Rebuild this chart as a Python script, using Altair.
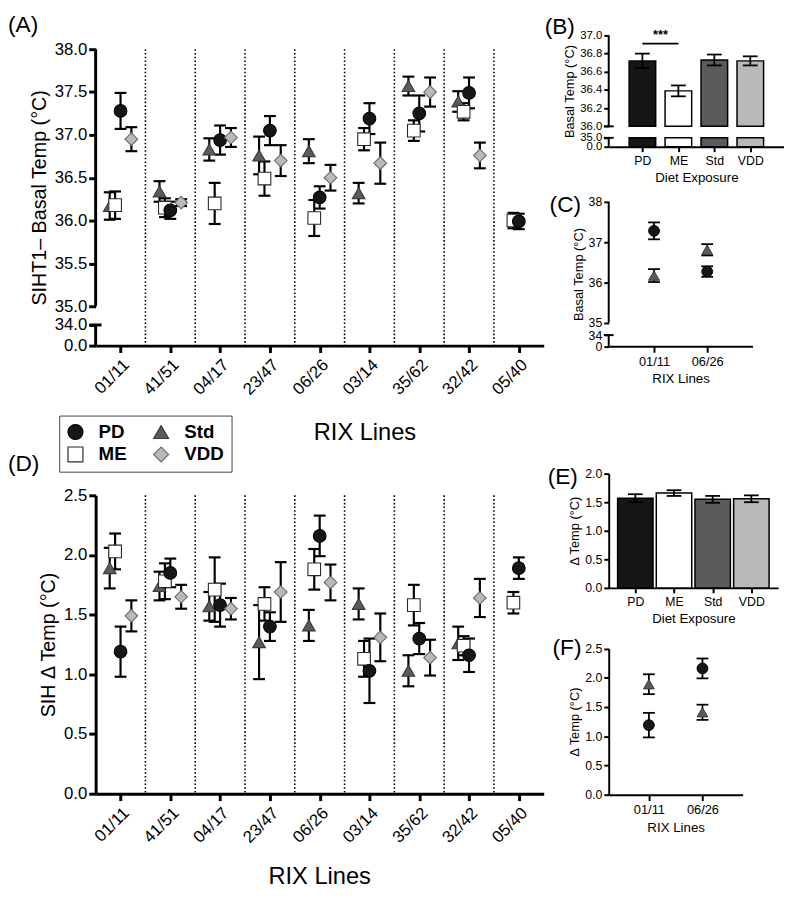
import json
import altair as alt
import pandas as pd

FONT = "Liberation Sans"

# ---------------- data ----------------
LINES = ["01/11", "41/51", "04/17", "23/47", "06/26", "03/14", "35/62", "32/42", "05/40"]
DIETS = ["PD", "ME", "Std", "VDD"]
LEGEND_ORDER = ["PD", "ME", "Std", "VDD"]
DRAW_ORDER = ["Std", "ME", "PD", "VDD"]
SUBSET_LINES = ["01/11", "06/26"]

BASAL_PD_MEAN = [37.28, 36.12, 36.94, 37.05, 36.27, 37.19, 37.25, 37.49, 35.99]
BASAL_PD_SEM = [0.21, 0.10, 0.17, 0.17, 0.13, 0.18, 0.21, 0.18, 0.09]
BASAL_ME_MEAN = [36.18, 36.15, 36.20, 36.49, 36.03, 36.95, 37.05, 37.27, 36.00]
BASAL_ME_SEM = [0.16, 0.11, 0.24, 0.20, 0.21, 0.13, 0.12, 0.10, 0.09]
BASAL_STD_MEAN = [36.17, 36.34, 36.83, 36.76, 36.81, 36.32, 37.57, 37.39, None]
BASAL_STD_SEM = [0.16, 0.12, 0.13, 0.22, 0.14, 0.12, 0.11, 0.12, None]
BASAL_VDD_MEAN = [36.95, 36.21, 36.97, 36.70, 36.50, 36.67, 37.50, 36.76, None]
BASAL_VDD_SEM = [0.14, 0.04, 0.11, 0.18, 0.15, 0.24, 0.17, 0.15, None]

DELTA_PD_MEAN = [1.19, 1.85, 1.58, 1.40, 2.16, 1.03, 1.30, 1.16, 1.89]
DELTA_PD_SEM = [0.21, 0.12, 0.18, 0.12, 0.17, 0.27, 0.13, 0.14, 0.09]
DELTA_ME_MEAN = [2.03, 1.78, 1.71, 1.59, 1.88, 1.13, 1.58, 1.24, 1.60]
DELTA_ME_SEM = [0.15, 0.15, 0.27, 0.14, 0.17, 0.15, 0.17, 0.08, 0.09]
DELTA_STD_MEAN = [1.89, 1.74, 1.57, 1.27, 1.41, 1.59, 1.03, 1.26, None]
DELTA_STD_SEM = [0.17, 0.12, 0.12, 0.31, 0.13, 0.13, 0.13, 0.14, None]
DELTA_VDD_MEAN = [1.49, 1.65, 1.55, 1.69, 1.77, 1.31, 1.14, 1.64, None]
DELTA_VDD_SEM = [0.13, 0.10, 0.09, 0.25, 0.15, 0.20, 0.15, 0.16, None]

BAR_BASAL_MEAN = [36.72, 36.39, 36.73, 36.72]
BAR_BASAL_SEM = [0.08, 0.06, 0.06, 0.05]
BAR_DELTA_MEAN = [1.57, 1.66, 1.55, 1.56]
BAR_DELTA_SEM = [0.07, 0.05, 0.06, 0.06]

SIG_FROM = ["PD"]
SIG_TO = ["ME"]
SIG_LEVEL = [36.91]
SIG_LABEL = ["***"]

# ---------------- styling ----------------
FILL_COLORS = {"PD": "#161616", "ME": "#ffffff", "Std": "#5b5b5b", "VDD": "#b9b9b9"}
EDGE_COLORS = {"PD": "#000000", "ME": "#2a2a2a", "Std": "#3a3a3a", "VDD": "#6a6a6a"}
SHAPES = {"PD": "circle", "ME": "square", "Std": "triangle-up", "VDD": "diamond"}
DODGE = {"Std": -0.2175, "ME": -0.109, "PD": 0.0, "VDD": 0.2175}  # horizontal jitter within a line
TICKS = 40  # keep every listed tick value


def sc(mapping):
    return alt.Scale(domain=LEGEND_ORDER, range=[mapping[d] for d in LEGEND_ORDER])


def label_expr(names):
    return json.dumps(names) + "[round(datum.value)]"


def long_frame(series, lines, dodge):
    rows = []
    for diet in DRAW_ORDER:
        means, sems = series[diet]
        for line, m, s in zip(lines, means, sems):
            if m is None:
                continue
            pos = lines.index(line) + dodge[diet]
            rows.append({"line": line, "pos": pos, "diet": diet, "mean": m, "lo": m - s, "hi": m + s})
    return pd.DataFrame(rows)


def bar_frame(means, sems, brk):
    df = pd.DataFrame({"diet": DIETS, "pos": list(range(len(DIETS))), "mean": means,
                       "lo": [m - s for m, s in zip(means, sems)],
                       "hi": [m + s for m, s in zip(means, sems)]})
    df["zero"] = 0.0
    if brk:
        df["brk_lo"] = brk[0]
        df["brk_hi"] = brk[1]
    return df


basal_series = {"PD": (BASAL_PD_MEAN, BASAL_PD_SEM), "ME": (BASAL_ME_MEAN, BASAL_ME_SEM),
                "Std": (BASAL_STD_MEAN, BASAL_STD_SEM), "VDD": (BASAL_VDD_MEAN, BASAL_VDD_SEM)}
delta_series = {"PD": (DELTA_PD_MEAN, DELTA_PD_SEM), "ME": (DELTA_ME_MEAN, DELTA_ME_SEM),
                "Std": (DELTA_STD_MEAN, DELTA_STD_SEM), "VDD": (DELTA_VDD_MEAN, DELTA_VDD_SEM)}
basal = long_frame(basal_series, LINES, DODGE)
delta = long_frame(delta_series, LINES, DODGE)


def subset(series):
    rows = []
    for d in ["Std", "PD"]:
        means, sems = series[d]
        for k, line in enumerate(SUBSET_LINES):
            i = LINES.index(line)
            m, s = means[i], sems[i]
            rows.append({"line": line, "pos": k, "diet": d, "mean": m, "lo": m - s, "hi": m + s})
    return pd.DataFrame(rows)


basal_sub = subset(basal_series)
delta_sub = subset(delta_series)
bars_basal = bar_frame(BAR_BASAL_MEAN, BAR_BASAL_SEM, (35, 36))
bars_delta = bar_frame(BAR_DELTA_MEAN, BAR_DELTA_SEM, None)
sig = pd.DataFrame({"a": [DIETS.index(s) for s in SIG_FROM], "b": [DIETS.index(s) for s in SIG_TO],
                    "y": SIG_LEVEL, "label": SIG_LABEL})
sig["mid"] = (sig["a"] + sig["b"]) / 2


def letter(txt, x, y):
    return alt.Chart(pd.DataFrame({"t": [txt]})).mark_text(
        align="left", baseline="top", fontSize=23, font=FONT, color="black"
    ).encode(x=alt.value(x), y=alt.value(y), text="t:N")


def axis_segments(lo, hi, width):
    return alt.Chart(pd.DataFrame({"lo": lo, "hi": hi})).mark_rule(
        color="black", strokeWidth=width).encode(x=alt.value(0), y="lo:Q", y2="hi:Q")


def break_caps(levels, size, width):
    return alt.Chart(pd.DataFrame({"v": levels})).mark_tick(
        orient="horizontal", color="black", size=size, thickness=width, opacity=1).encode(
        x=alt.value(0), y="v:Q")


def caps(base, xs, ys, size, width):
    return [base.mark_tick(orient="horizontal", size=size, thickness=width, color="black", opacity=1).encode(
        x=alt.X("pos:Q", scale=xs), y=alt.Y(f"{c}:Q", scale=ys)) for c in ("lo", "hi")]


# ---------------- big dot panels (A, D) ----------------
def big_panel(df, yscale, yaxis, xaxis, height, ytop, extra, legend):
    xs = alt.Scale(domain=[-0.5, len(LINES) - 0.5], nice=False, zero=False)
    sep_df = pd.DataFrame({"line": LINES[1:]})
    sep_df["pos"] = [LINES.index(l) - 0.5 for l in LINES[1:]]
    sep_df["top"] = ytop
    sep_df["bottom"] = 0.0
    sep = alt.Chart(sep_df).mark_rule(color="black", strokeWidth=1.6, strokeDash=[1.6, 2.2]).encode(
        x=alt.X("pos:Q", scale=xs), y=alt.Y("top:Q", scale=yscale), y2="bottom:Q")
    base = alt.Chart(df)
    err = base.mark_rule(color="black", strokeWidth=2.2).encode(
        x=alt.X("pos:Q", scale=xs), y=alt.Y("lo:Q", scale=yscale), y2="hi:Q")
    pts = base.mark_point(filled=True, size=165, strokeWidth=1.1, opacity=1).encode(
        x=alt.X("pos:Q", scale=xs, axis=xaxis),
        y=alt.Y("mean:Q", scale=yscale, axis=yaxis),
        shape=alt.Shape("diet:N", scale=sc(SHAPES), legend=legend),
        fill=alt.Fill("diet:N", scale=sc(FILL_COLORS), legend=legend),
        stroke=alt.Stroke("diet:N", scale=sc(EDGE_COLORS), legend=legend),
    )
    return alt.layer(sep, *extra, err, *caps(base, xs, yscale, 12, 2.2), pts).properties(
        width=455, height=height)


legendA = alt.Legend(title=None, orient="none", legendX=-37, legendY=386, columns=2,
                     labelFontSize=19, labelFontWeight="bold", labelFont=FONT, labelColor="black",
                     symbolSize=230, symbolStrokeWidth=1.2, strokeColor="#444", padding=7,
                     columnPadding=24, rowPadding=2, labelOffset=14, direction="vertical")


def big_xaxis(tx, ty):
    return alt.Axis(title="RIX Lines", values=list(range(len(LINES))), labelExpr=label_expr(LINES),
                    labelAngle=-45, labelFontSize=17, titleFontSize=24, labelFlush=False,
                    tickCount=TICKS, labelOverlap=False,
                    tickSize=7, tickWidth=3, domainWidth=3, labelPadding=4, grid=False,
                    titleX=tx, titleY=ty, titleBaseline="middle", titleAlign="center")


yA = alt.Scale(domain=[0, 34, 35, 38], range=[315, 294, 275, 14], nice=False, zero=False)
yaxisA = alt.Axis(values=[0, 34, 35, 35.5, 36, 36.5, 37, 37.5, 38], format=".1f", domain=False,
                  title="SIHT1\u2013 Basal Temp (\u00b0C)", titleFontSize=20, labelFontSize=17,
                  tickSize=7, tickWidth=3, titlePadding=5, grid=False, labelOverlap=False,
                  tickCount=TICKS)
panelA = big_panel(basal, yA, yaxisA, big_xaxis(273, 88), 315, 38,
                   [axis_segments([0, 35], [34, 38], 3), break_caps([34], 12, 3),
                    letter("(A)", -89, -21)], legendA)

yD = alt.Scale(domain=[0, 2.5], nice=False, zero=True)
yaxisD = alt.Axis(values=[0, 0.5, 1, 1.5, 2, 2.5], format=".1f", domainWidth=3,
                  title="SIH \u0394 Temp (\u00b0C)", titleFontSize=20, labelFontSize=17,
                  tickSize=7, tickWidth=3, titlePadding=5, grid=False, labelOverlap=False,
                  tickCount=TICKS)
panelD = big_panel(delta, yD, yaxisD, big_xaxis(227, 84), 303, 2.5, [letter("(D)", -89, -43)], None)


# ---------------- bar panels (B, E) ----------------
def bar_xaxis():
    return alt.Axis(title="Diet Exposure", values=list(range(len(DIETS))), labelExpr=label_expr(DIETS),
                    labelAngle=0, labelFontSize=12.5, titleFontSize=13.5, grid=False, labelFlush=False,
                    tickCount=TICKS, labelOverlap=False,
                    tickSize=5, tickWidth=2, domainWidth=2, labelPadding=3, titlePadding=4)


def bar_panel(df, xs, yscale, yaxis, width, height, barsize, broken, extra):
    base = alt.Chart(df)
    fill = alt.Fill("diet:N", scale=sc(FILL_COLORS), legend=None)
    layers = []
    if broken:
        layers.append(base.mark_bar(stroke="black", strokeWidth=1.5, size=barsize).encode(
            x=alt.X("pos:Q", scale=xs, axis=bar_xaxis()),
            y=alt.Y("mean:Q", scale=yscale, axis=yaxis), y2="brk_hi:Q", fill=fill))
        layers.append(base.mark_bar(stroke="black", strokeWidth=1.5, size=barsize).encode(
            x=alt.X("pos:Q", scale=xs), y="brk_lo:Q", y2="zero:Q", fill=fill))
    else:
        layers.append(base.mark_bar(stroke="black", strokeWidth=1.5, size=barsize).encode(
            x=alt.X("pos:Q", scale=xs, axis=bar_xaxis()),
            y=alt.Y("mean:Q", scale=yscale, axis=yaxis), y2="zero:Q", fill=fill))
    layers.append(base.mark_rule(color="black", strokeWidth=1.8).encode(
        x=alt.X("pos:Q", scale=xs), y="lo:Q", y2="hi:Q"))
    layers += caps(base, xs, yscale, 15, 1.8)
    return alt.layer(*layers, *extra).properties(width=width, height=height)


xB = alt.Scale(domain=[-0.8, 3.8], nice=False, zero=False)
yB = alt.Scale(domain=[0, 35, 36, 37], range=[113, 104, 92.3, 0], nice=False, zero=False)
yaxisB = alt.Axis(values=[0, 35, 36, 36.2, 36.4, 36.6, 36.8, 37], format=".1f", domain=False,
                  title="Basal Temp (\u00b0C)", titleFontSize=13, labelFontSize=11.5,
                  tickSize=5, tickWidth=2, titlePadding=3, grid=False, labelOverlap=False,
                  tickCount=TICKS)
sig_rule = alt.Chart(sig).mark_rule(color="black", strokeWidth=1.8).encode(
    x=alt.X("a:Q", scale=xB), x2="b:Q", y="y:Q")
sig_text = alt.Chart(sig).mark_text(fontSize=13, fontWeight="bold", baseline="bottom", dy=-2,
                                    font=FONT).encode(
    x=alt.X("mid:Q", scale=xB), y="y:Q", text="label:N")
panelB = bar_panel(bars_basal, xB, yB, yaxisB, 178, 113, 27, True,
                   [axis_segments([0, 36], [35, 37], 2), break_caps([35, 36], 10, 2),
                    sig_rule, sig_text, letter("(B)", -65, -19)])

xE = alt.Scale(domain=[-0.561, 3.564], nice=False, zero=False)
yE = alt.Scale(domain=[0, 2], range=[195, 79], nice=False)
yaxisE = alt.Axis(values=[0, 0.5, 1, 1.5, 2], format=".1f", domainWidth=2,
                  title="\u0394 Temp (\u00b0C)", titleFontSize=13, labelFontSize=12.5,
                  tickSize=5, tickWidth=2, titlePadding=3, grid=False, labelOverlap=False,
                  tickCount=TICKS)
panelE = bar_panel(bars_delta, xE, yE, yaxisE, 172, 195, 36, False, [letter("(E)", -62, 72)])


# ---------------- small dot panels (C, F) ----------------
def small_panel(df, xs, yscale, yaxis, width, height, extra):
    xaxis = alt.Axis(title="RIX Lines", values=list(range(len(SUBSET_LINES))),
                     labelExpr=label_expr(SUBSET_LINES), labelAngle=0, labelFontSize=13,
                     titleFontSize=13.5, grid=False, labelFlush=False, tickCount=TICKS,
                     tickSize=6, tickWidth=2, domainWidth=2, labelPadding=3, titlePadding=4)
    base = alt.Chart(df)
    err = base.mark_rule(color="black", strokeWidth=1.8).encode(
        x=alt.X("pos:Q", scale=xs), y=alt.Y("lo:Q", scale=yscale), y2="hi:Q")
    pts = base.mark_point(filled=True, size=120, strokeWidth=1, opacity=1).encode(
        x=alt.X("pos:Q", scale=xs, axis=xaxis),
        y=alt.Y("mean:Q", scale=yscale, axis=yaxis),
        shape=alt.Shape("diet:N", scale=sc(SHAPES), legend=None),
        fill=alt.Fill("diet:N", scale=sc(FILL_COLORS), legend=None),
        stroke=alt.Stroke("diet:N", scale=sc(EDGE_COLORS), legend=None),
    )
    return alt.layer(*extra, err, *caps(base, xs, yscale, 12, 1.8), pts).properties(
        width=width, height=height)


xC = alt.Scale(domain=[-0.852, 1.852], nice=False, zero=False)
yC = alt.Scale(domain=[0, 34, 35, 38], range=[152.7, 141.3, 128.7, 6], nice=False, zero=False)
yaxisC = alt.Axis(values=[0, 34, 35, 36, 37, 38], format="d", domain=False,
                  title="Basal Temp (\u00b0C)", titleFontSize=13, labelFontSize=12.5,
                  tickSize=5, tickWidth=2, titlePadding=3, grid=False, labelOverlap=False,
                  tickCount=TICKS)
panelC = small_panel(basal_sub, xC, yC, yaxisC, 146, 152.7,
                     [axis_segments([0, 35], [34, 38], 2), break_caps([34], 10, 2),
                      letter("(C)", -60, -2)])

xF = alt.Scale(domain=[-0.75, 1.75], nice=False, zero=False)
yF = alt.Scale(domain=[0, 2.5], range=[160, 11.6], nice=False)
yaxisF = alt.Axis(values=[0, 0.5, 1, 1.5, 2, 2.5], format=".1f", domainWidth=2,
                  title="\u0394 Temp (\u00b0C)", titleFontSize=13, labelFontSize=12.5,
                  tickSize=5, tickWidth=2, titlePadding=3, grid=False, labelOverlap=False,
                  tickCount=TICKS)
panelF = small_panel(delta_sub, xF, yF, yaxisF, 136, 160, [letter("(F)", -57, 0)])


# ---------------- layout ----------------
left = alt.vconcat(panelA, panelD, spacing=152, bounds="flush")
right = alt.vconcat(panelB, panelC, panelE, panelF, spacing=50, bounds="flush")
chart = alt.hconcat(left, right, spacing=1).properties(padding=0)

chart = chart.configure_view(strokeWidth=0).configure_axis(
    labelFont=FONT, titleFont=FONT, labelColor="black", titleColor="black",
    titleFontWeight="normal", domainColor="black", tickColor="black", grid=False
).configure_text(font=FONT)

chart.save("out.html", embed_options={"renderer": "svg", "actions": False})
